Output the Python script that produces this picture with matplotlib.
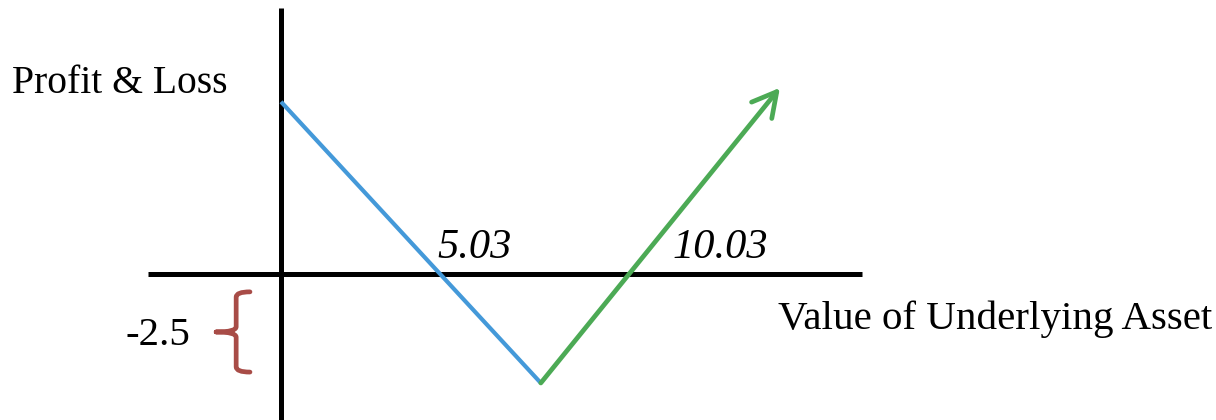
import matplotlib
matplotlib.use("Agg")
import matplotlib.pyplot as plt
from matplotlib.patches import FancyArrowPatch, PathPatch
from matplotlib.path import Path

# Long straddle payoff: falling leg (put side) and rising leg (call side)
put_x = [0.0, 7.53]
put_pl = [3.95, -2.5]
call_x = [7.53, 14.46]
call_pl = [-2.5, 4.27]
breakeven_labels = ["5.03", "10.03"]
premium = -2.5
premium_label = "-2.5"

BLUE = "#4499d9"
GREEN = "#4caa55"
BRACE = "#a84c47"
SERIF = ["Liberation Serif", "DejaVu Serif"]

fig = plt.figure(figsize=(12.16, 4.2), dpi=100)
ax = fig.add_axes([0, 0, 1, 1])
ax.set_xlim(-8.145, 27.10)
ax.set_ylim(-3.349, 6.284)
ax.axis("off")

# Hand-drawn style axes
ax.plot([-3.86, 16.84], [0, 0], color="black", lw=3.6, solid_capstyle="butt")
ax.plot([0, 0], [-3.6, 6.1], color="black", lw=3.6, solid_capstyle="butt")

# Payoff legs
ax.plot(put_x, put_pl, color=BLUE, lw=3.0, solid_capstyle="butt", zorder=3)
arrow = FancyArrowPatch((call_x[0], call_pl[0]), (call_x[1], call_pl[1]),
                        arrowstyle="->,head_length=1.2,head_width=0.65",
                        mutation_scale=14.4, color=GREEN, lw=3.4,
                        shrinkA=0, shrinkB=0, capstyle="round",
                        joinstyle="round", zorder=3)
ax.add_patch(arrow)

# Axis captions
ax.text(-7.80, 4.15, "Profit & Loss", family=SERIF, fontsize=28.5,
        ha="left", va="baseline")
ax.text(14.41, -1.26, "Value of Underlying Asset", family=SERIF, fontsize=29.5,
        ha="left", va="baseline")

# Breakeven labels just above the horizontal axis
label_left = [4.52, 11.36]
for xl, lab in zip(label_left, breakeven_labels):
    ax.text(xl, 0.367, lab, family=SERIF, style="italic",
            fontsize=30.5, ha="left", va="baseline")

# Premium brace between zero and the maximum loss
sx, ex, tx = -1.30, -0.90, -1.88
top, bot = -0.41, premium + 0.25
mid = (top + bot) / 2
verts = [
    (ex, top), (sx, top), (sx, top - 0.12),
    (sx, mid + 0.12), (sx, mid), (tx, mid),
    (tx, mid), (sx, mid), (sx, mid - 0.12),
    (sx, bot + 0.12), (sx, bot), (ex, bot),
]
codes = [Path.MOVETO, Path.CURVE3, Path.CURVE3,
         Path.LINETO, Path.CURVE3, Path.CURVE3,
         Path.MOVETO, Path.CURVE3, Path.CURVE3,
         Path.LINETO, Path.CURVE3, Path.CURVE3]
ax.add_patch(PathPatch(Path(verts, codes), facecolor="none", edgecolor=BRACE,
                       lw=3.4, capstyle="round", joinstyle="round"))
ax.text(-4.52, -1.63, premium_label, family=SERIF, fontsize=29.5,
        ha="left", va="baseline")

fig.savefig("out.png", dpi=100)
